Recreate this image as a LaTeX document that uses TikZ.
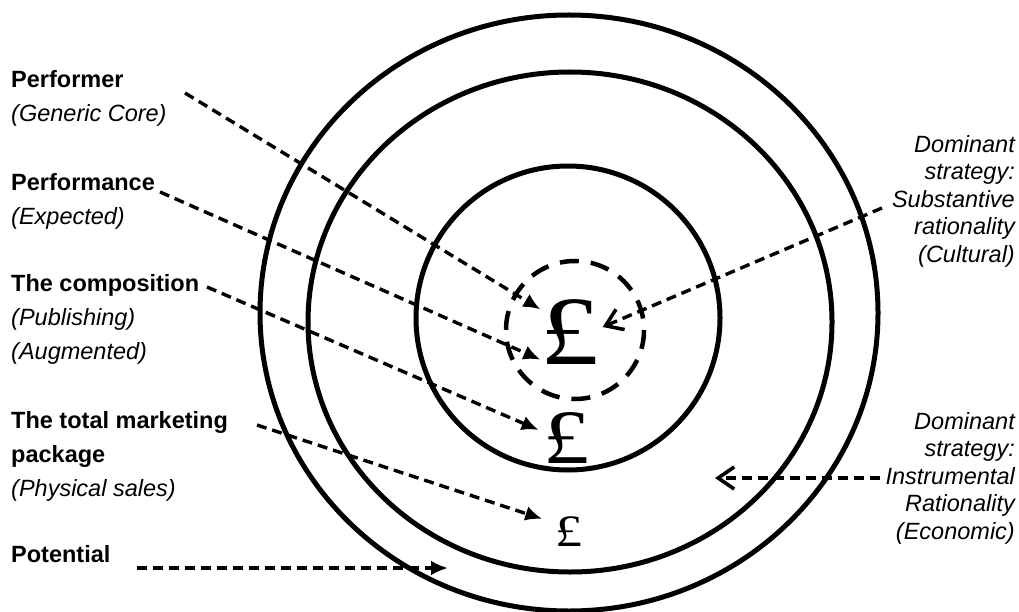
\documentclass[tikz,border=0pt]{standalone}
\usepackage{fontspec}
\setmainfont{Liberation Sans}
\newfontfamily\poundfont{Liberation Serif}
\usetikzlibrary{arrows.meta}

\begin{document}
\begin{tikzpicture}[x=1pt, y=-1pt, >={Latex[length=17pt,width=15pt]},
    ring/.style={line width=5pt},
    pointer/.style={line width=3.4pt, dash pattern=on 10pt off 6pt, ->},
    backpointer/.style={line width=3.4pt, dash pattern=on 10pt off 6pt,
        -{Straight Barb[length=16pt,width=22pt,line width=3.6pt]}},
    lbl/.style={inner sep=0pt, align=left, anchor=north west,
        font=\fontsize{23.5}{34}\selectfont},
    rlbl/.style={inner sep=0pt, align=right, anchor=north east,
        font=\fontsize{23.5}{27.5}\selectfont\itshape},
    pound/.style={inner sep=0pt, xscale=1.2, font=\poundfont\fontsize{#1}{#1}\selectfont}]
    \useasboundingbox (0,0) rectangle (1019,612);

    % rings
    \draw[ring] (569,313) ellipse [x radius=309, y radius=298];
    \draw[ring] (570,322) ellipse [x radius=262, y radius=250];
    \draw[ring] (568,318) circle [radius=152];
    \draw[line width=4.5pt, dash pattern=on 19pt off 12pt] (575,330) circle [radius=69];

    \node[pound=98] (bigP) at (570,332) {£};
    \node[pound=77] (midP) at (567,438) {£};
    \node[pound=45] (smallP) at (569,532) {£};

    % labels
    \node[lbl] (performer) at (11,70) {\textbf{Performer}\\\textit{(Generic Core)}};
    \node[lbl] (performance) at (11,173) {\textbf{Performance}\\\textit{(Expected)}};
    \node[lbl] (composition) at (11,274) {\textbf{The composition}\\\textit{(Publishing)}\\\textit{(Augmented)}};
    \node[lbl] (marketing) at (11,411) {\textbf{The total marketing}\\\textbf{package}\\\textit{(Physical sales)}};
    \node[lbl] (potential) at (11,545) {\textbf{Potential}};
    \node[rlbl] (cultural) at (1015,135) {Dominant\\strategy:\\Substantive\\rationality\\(Cultural)};
    \node[rlbl] (economic) at (1015,412) {Dominant\\strategy:\\Instrumental\\Rationality\\(Economic)};

    \coordinate (performer-out) at (185,93);
    \coordinate (performance-out) at (160,192);
    \coordinate (composition-out) at (207,287);
    \coordinate (marketing-out) at (257,425);
    \coordinate (potential-out) at (137,568);
    \coordinate (potential-in) at (448,568);
    \coordinate (cultural-out) at (882,208);
    \coordinate (economic-out) at (880,478);
    \coordinate (economic-in) at (715,478);

    \draw[pointer] (performer-out) -- ([yshift=-10pt]bigP.north west);
    \draw[pointer] (performance-out) -- ([yshift=5pt]bigP.south west);
    \draw[pointer] (composition-out) -- ([xshift=-5pt,yshift=8pt]midP.west);
    \draw[pointer] (marketing-out) -- ([xshift=-13pt,yshift=-2pt]smallP.north west);
    \draw[pointer] (potential-out) -- (potential-in);
    \draw[backpointer] (cultural-out) -- ([xshift=3pt,yshift=5pt]bigP.east);
    \draw[backpointer] (economic-out) -- (economic-in);
\end{tikzpicture}
\end{document}
